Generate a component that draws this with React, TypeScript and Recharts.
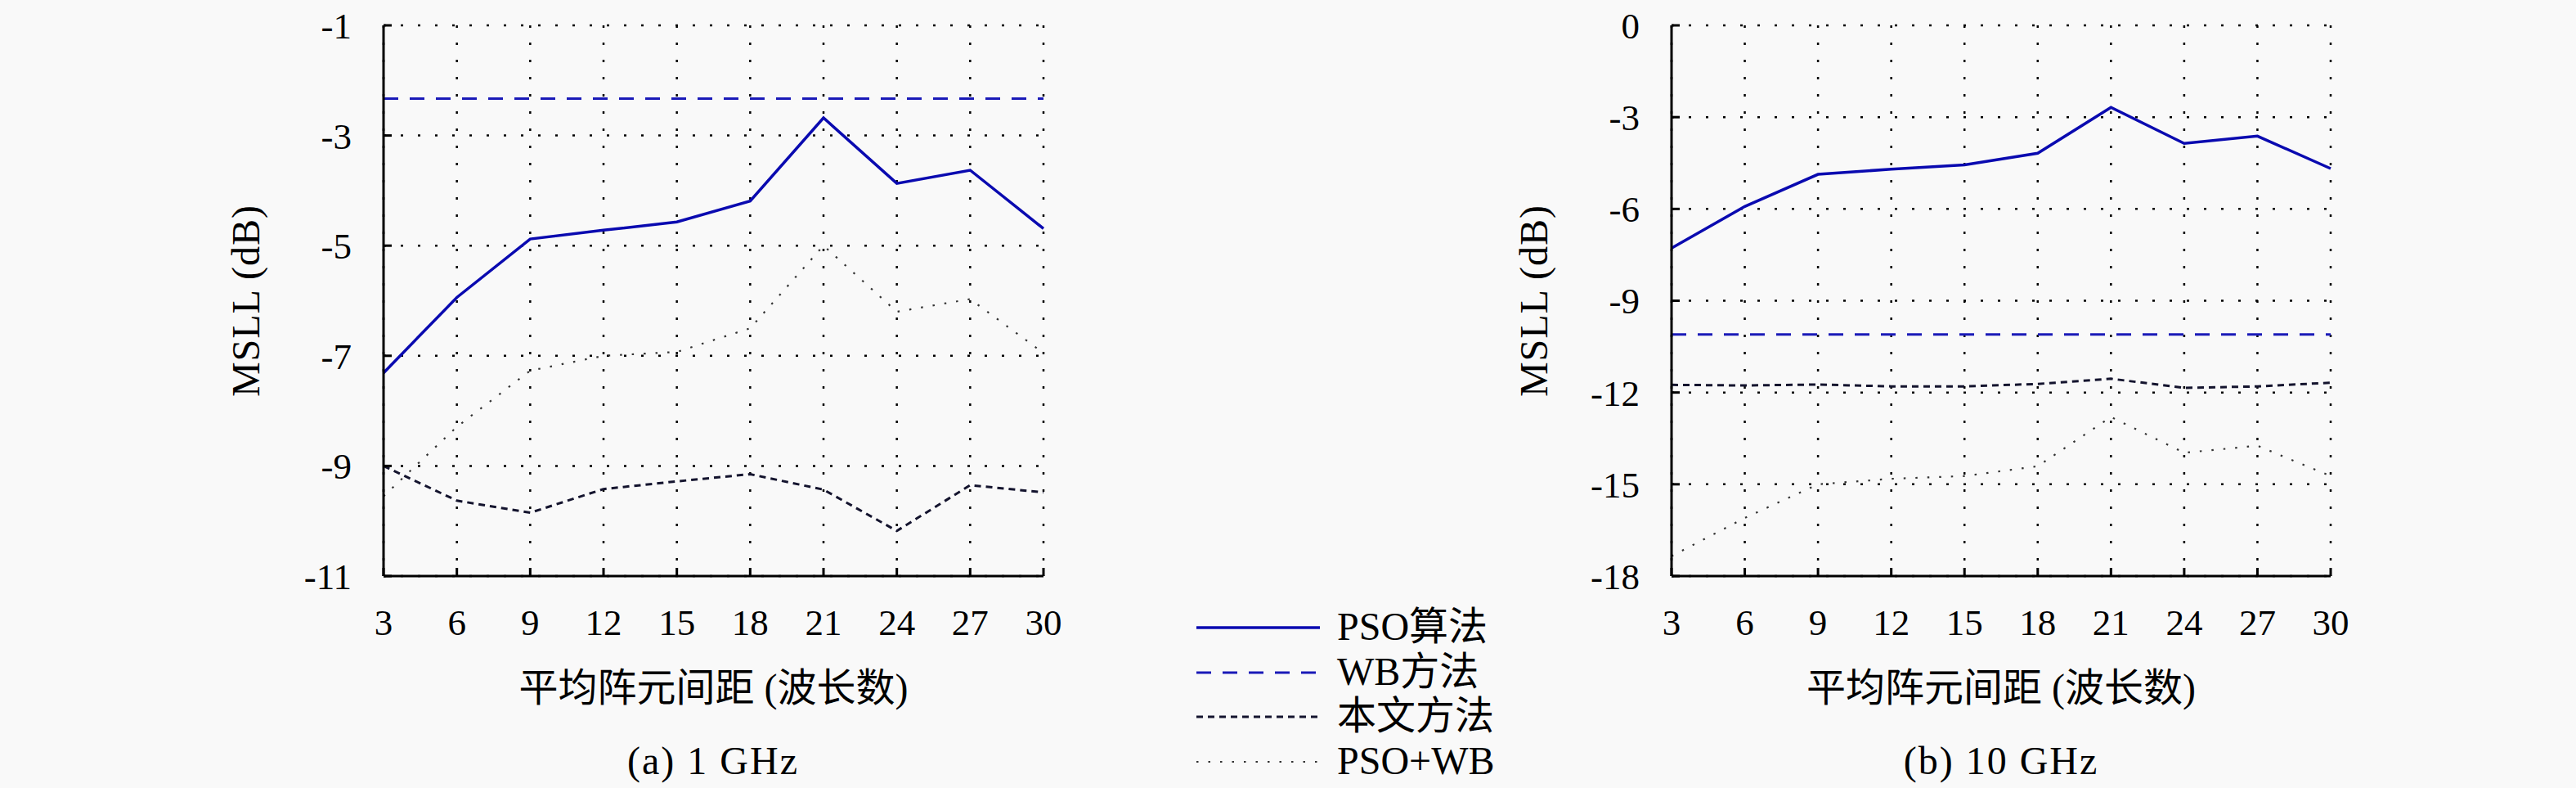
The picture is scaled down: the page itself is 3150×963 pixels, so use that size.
import { LineChart, Line, XAxis, YAxis, CartesianGrid, Label } from 'recharts'

// average element spacing (wavelengths)
const spacing = [3, 6, 9, 12, 15, 18, 21, 24, 27, 30]

// (a) 1 GHz
const psoAlg1 = [-7.31, -5.94, -4.88, -4.72, -4.57, -4.19, -2.68, -3.87, -3.63, -4.69]
const wb1 = [-2.33, -2.33, -2.33, -2.33, -2.33, -2.33, -2.33, -2.33, -2.33, -2.33]
const ours1 = [-9.0, -9.63, -9.85, -9.42, -9.28, -9.15, -9.43, -10.18, -9.35, -9.48]
const psoWb1 = [-9.55, -8.29, -7.27, -7.0, -6.93, -6.5, -5.0, -6.2, -5.97, -6.95]

// (b) 10 GHz
const psoAlg10 = [-7.28, -5.92, -4.87, -4.7, -4.56, -4.18, -2.68, -3.86, -3.62, -4.68]
const wb10 = [-10.1, -10.1, -10.1, -10.1, -10.1, -10.1, -10.1, -10.1, -10.1, -10.1]
const ours10 = [-11.75, -11.77, -11.74, -11.8, -11.8, -11.72, -11.55, -11.85, -11.8, -11.68]
const psoWb10 = [-17.35, -16.1, -15.0, -14.82, -14.73, -14.41, -12.8, -13.97, -13.74, -14.73]

const yTicks1 = [-11, -9, -7, -5, -3, -1]
const yTicks10 = [-18, -15, -12, -9, -6, -3, 0]

const seriesNames = ['PSO算法', 'WB方法', '本文方法', 'PSO+WB']
const seriesKeys = ['pso', 'wb', 'ours', 'psoWb']

const lineStyles = [
    { stroke: '#0a0ab0', strokeWidth: 3.5, strokeDasharray: undefined },
    { stroke: '#1a1ab8', strokeWidth: 3, strokeDasharray: '18 14' },
    { stroke: '#14142e', strokeWidth: 3, strokeDasharray: '8 6' },
    { stroke: '#333333', strokeWidth: 2.2, strokeDasharray: '2.5 12' },
]

const serif = 'Liberation Serif, Noto Sans CJK SC, serif'

function buildRows(series: number[][]) {
    return spacing.map((x, i) => {
        const row: Record<string, number> = { x }
        seriesKeys.forEach((k, j) => (row[k] = series[j][i]))
        return row
    })
}

const data1 = buildRows([psoAlg1, wb1, ours1, psoWb1])
const data10 = buildRows([psoAlg10, wb10, ours10, psoWb10])

// axis titles drawn by hand so the serif face is not lost
function XTitle(props: any) {
    const { x, y, width, height } = props.viewBox
    return (
        <text x={x + width / 2} y={y + height - 7} textAnchor="middle" fontFamily={serif} fontSize={48} fill="#000">
            平均阵元间距 (波长数)
        </text>
    )
}

function YTitle(props: any) {
    const { x, y, height } = props.viewBox
    const cx = x + 31
    const cy = y + height / 2
    return (
        <text
            x={cx}
            y={cy}
            dy="0.35em"
            textAnchor="middle"
            transform={`rotate(-90 ${cx} ${cy})`}
            fontFamily={serif}
            fontSize={48}
            letterSpacing={1}
            fill="#000"
        >
            MSLL (dB)
        </text>
    )
}

interface PanelProps {
    data: Record<string, number>[]
    left: number
    marginLeft: number
    marginRight: number
    yDomain: [number, number]
    yTicks: number[]
}

function Panel({ data, left, marginLeft, marginRight, yDomain, yTicks }: PanelProps) {
    const axisLine = { stroke: '#000', strokeWidth: 3 }
    const tickLine = { stroke: '#000', strokeWidth: 3 }
    const tickFont = { fill: '#000', fontSize: 45, fontFamily: serif }
    return (
        <div style={{ position: 'absolute', left, top: 0, fontFamily: serif }}>
            <LineChart
                width={1400}
                height={963}
                data={data}
                margin={{ top: 31, right: marginRight, bottom: 99, left: marginLeft }}
            >
                <CartesianGrid stroke="#000" strokeWidth={2.5} strokeDasharray="3 18" />
                <XAxis
                    dataKey="x"
                    type="number"
                    domain={[3, 30]}
                    ticks={spacing}
                    height={160}
                    axisLine={axisLine}
                    tickLine={tickLine}
                    tickSize={-10}
                    tickMargin={50}
                    tick={tickFont}
                    interval={0}
                >
                    <Label content={XTitle} />
                </XAxis>
                <XAxis
                    xAxisId="top"
                    dataKey="x"
                    type="number"
                    orientation="top"
                    domain={[3, 30]}
                    ticks={spacing}
                    height={0}
                    axisLine={axisLine}
                    tickLine={tickLine}
                    tickSize={-10}
                    tick={false}
                />
                <YAxis
                    type="number"
                    domain={yDomain}
                    ticks={yTicks}
                    width={200}
                    axisLine={axisLine}
                    tickLine={tickLine}
                    tickSize={-10}
                    tickMargin={49}
                    tick={tickFont}
                    interval={0}
                >
                    <Label content={YTitle} />
                </YAxis>
                <YAxis
                    yAxisId="right"
                    type="number"
                    orientation="right"
                    domain={yDomain}
                    ticks={yTicks}
                    width={0}
                    axisLine={axisLine}
                    tickLine={tickLine}
                    tickSize={-10}
                    tick={false}
                />
                {seriesKeys.map((k, i) => (
                    <Line
                        key={k}
                        type="linear"
                        dataKey={k}
                        name={seriesNames[i]}
                        stroke={lineStyles[i].stroke}
                        strokeWidth={lineStyles[i].strokeWidth}
                        strokeDasharray={lineStyles[i].strokeDasharray}
                        dot={false}
                        activeDot={false}
                        isAnimationActive={false}
                    />
                ))}
            </LineChart>
        </div>
    )
}

function Overlay() {
    const rows = [767, 822, 876, 931]
    return (
        <svg
            width={3150}
            height={963}
            style={{ position: 'absolute', left: 0, top: 0, pointerEvents: 'none' }}
        >
            <g fontFamily={serif} fontSize={48} fill="#000">
                <text x={872} y={946} textAnchor="middle" letterSpacing={2}>(a) 1 GHz</text>
                <text x={2447} y={946} textAnchor="middle" letterSpacing={2}>(b) 10 GHz</text>
                {seriesNames.map((name, i) => (
                    <g key={name}>
                        <line
                            x1={1463}
                            x2={1614}
                            y1={rows[i]}
                            y2={rows[i]}
                            stroke={lineStyles[i].stroke}
                            strokeWidth={lineStyles[i].strokeWidth}
                            strokeDasharray={lineStyles[i].strokeDasharray}
                        />
                        <text x={1635} y={rows[i] + 15}>{name}</text>
                    </g>
                ))}
            </g>
        </svg>
    )
}

export default function App() {
    return (
        <div
            style={{
                position: 'absolute',
                left: 0,
                top: 0,
                width: 3150,
                height: 963,
                background: '#f9f9f9',
                overflow: 'hidden',
            }}
        >
            <Panel data={data1} left={0} marginLeft={269} marginRight={124} yDomain={[-11, -1]} yTicks={yTicks1} />
            <Panel data={data10} left={1750} marginLeft={94} marginRight={300} yDomain={[-18, 0]} yTicks={yTicks10} />
            <Overlay />
        </div>
    )
}
